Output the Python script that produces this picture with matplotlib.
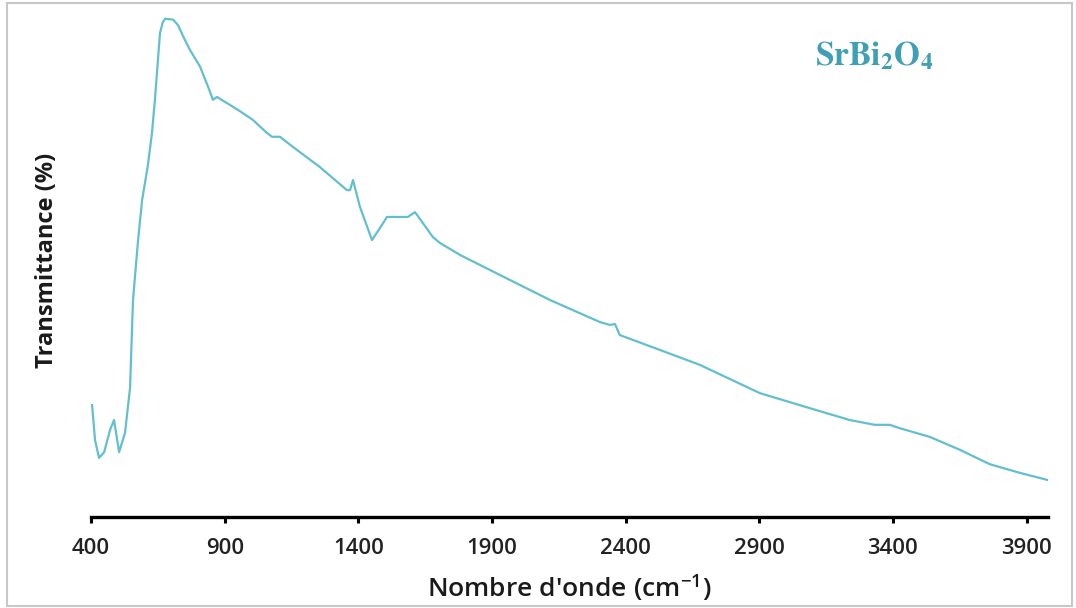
import matplotlib.pyplot as plt
import matplotlib.patches as patches
import numpy as np

# FTIR spectrum of SrBi2O4
wavenumber = [404, 415, 430, 449, 471, 486, 501, 505, 527, 546, 557, 576, 591,
              612, 628, 639, 650, 658, 668, 677, 707, 725, 750, 770, 808, 838,
              856, 871, 950, 1006, 1058, 1077, 1107, 1155, 1256, 1357, 1369,
              1380, 1406, 1451, 1481, 1507, 1556, 1585, 1612, 1638, 1679, 1705,
              1780, 1930, 2117, 2304, 2341, 2360, 2378, 2528, 2677, 2902, 3051,
              3238, 3332, 3388, 3425, 3537, 3650, 3762, 3874, 3979]
transmittance = [23.3, 16.0, 12.3, 13.5, 18.1, 20.2, 15.0, 13.5, 17.5, 26.9,
                 45.2, 57.7, 66.0, 73.0, 80.0, 86.9, 95.0, 100.8, 103.0, 103.8,
                 103.6, 102.5, 99.5, 97.3, 93.8, 89.6, 86.9, 87.5, 84.8, 82.7,
                 80.0, 79.2, 79.2, 77.1, 72.9, 68.1, 68.1, 70.2, 64.6, 57.7,
                 60.2, 62.5, 62.5, 62.5, 63.5, 61.5, 58.3, 57.1, 54.6, 50.4,
                 45.2, 40.6, 40.0, 40.2, 37.9, 34.8, 31.7, 25.8, 23.3, 20.2,
                 19.2, 19.2, 18.5, 16.7, 14.0, 11.0, 9.2, 7.7]
xticks = [400, 900, 1400, 1900, 2400, 2900, 3400, 3900]

plt.rcParams['font.family'] = ['Open Sans', 'DejaVu Sans']
plt.rcParams['mathtext.fontset'] = 'stix'

fig = plt.figure(figsize=(10.76, 6.08), dpi=100)
ax = fig.add_axes([0.0846, 0.1497, 0.8894, 0.829])

ax.plot(wavenumber, transmittance, color='#62bfcf', linewidth=1.6)

ax.set_xlim(400, 3980)
ax.set_ylim(0, 105)
ax.set_xticks(xticks)
ax.set_yticks([])
for side in ['top', 'right', 'left']:
    ax.spines[side].set_visible(False)
ax.spines['bottom'].set_linewidth(2.4)
ax.tick_params(axis='x', direction='out', length=4, width=2.2,
               labelsize=16, labelcolor='#222222', pad=11)
for lab in ax.get_xticklabels():
    lab.set_fontweight('semibold')

ax.set_xlabel("Nombre d'onde (cm$^{\\mathregular{-1}}$)", fontsize=19,
              fontweight='semibold', color='#1a1a1a', va='center')
ax.xaxis.set_label_coords(0.4995, -0.139)
ax.set_ylabel('Transmittance (%)', fontsize=17, fontweight='bold',
              color='#1a1a1a', va='center')
ax.yaxis.set_label_coords(-0.046, 0.51)

ax.text(3108, 95.8, r'$\mathbf{SrBi_2O_4}$', fontsize=24, color='#3f9fb4',
        ha='left', va='center')

# thin grey frame round the whole picture
fig.patches.append(patches.Rectangle((0.0065, 0.003), 0.99, 0.992,
                                     transform=fig.transFigure, fill=False,
                                     edgecolor='#c8c8c8', linewidth=1.5))

fig.savefig('out.png', dpi=100)
plt.close(fig)
